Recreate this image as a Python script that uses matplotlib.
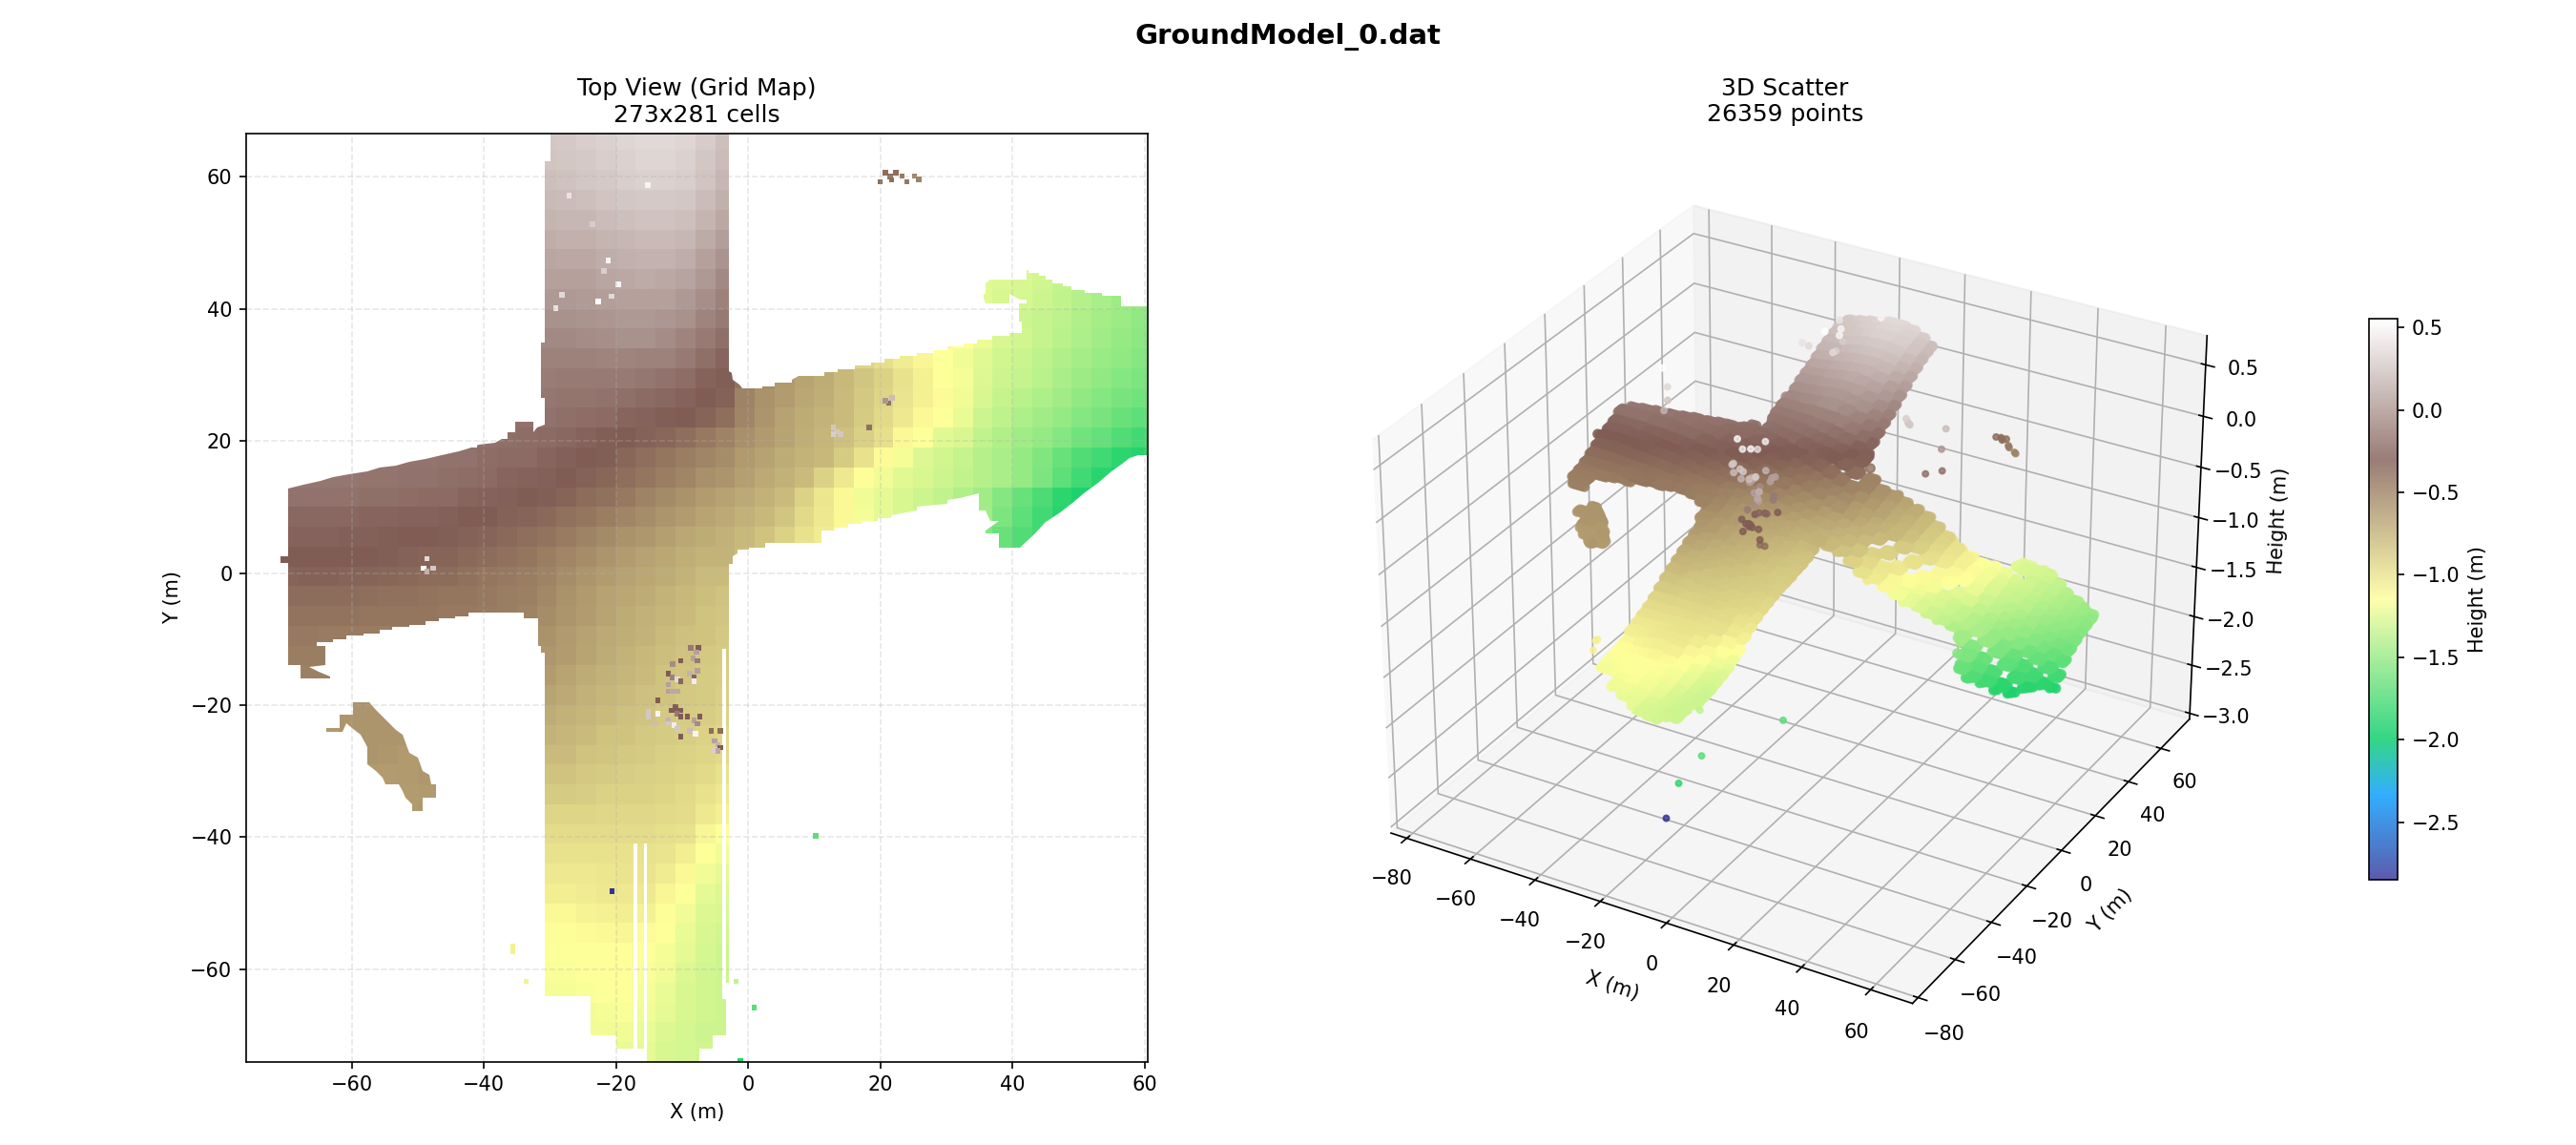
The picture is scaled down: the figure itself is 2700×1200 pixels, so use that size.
import numpy as np
import matplotlib
matplotlib.use("Agg")
import matplotlib.pyplot as plt
from matplotlib.colors import Normalize
from matplotlib.path import Path

# cell edges of the height table (m)
x_edges = np.arange(-71, 62, 3)
y_edges = np.arange(-74, 68, 3)

# height runs: row centre y, first column centre x, heights in cm
row_y = [65.5, 62.5, 59.5, 56.5, 53.5, 50.5, 47.5, 44.5, 44.5, 41.5, 41.5, 38.5, 38.5, 35.5, 35.5,
         32.5, 32.5, 29.5, 29.5, 26.5, 26.5, 23.5, 23.5, 20.5, 20.5, 17.5, 17.5, 14.5, 14.5,
         11.5, 11.5, 8.5, 8.5, 5.5, 5.5, 2.5, 2.5, 2.5, -0.5, -3.5, -6.5, -9.5, -9.5,
         -12.5, -12.5, -15.5, -15.5, -18.5, -18.5, -21.5, -21.5, -24.5, -24.5, -27.5, -27.5,
         -30.5, -30.5, -33.5, -33.5, -36.5, -36.5, -39.5, -42.5, -45.5, -48.5, -51.5, -54.5,
         -57.5, -60.5, -63.5, -66.5, -69.5, -72.5]
row_x0 = [-30.5, -30.5, -30.5, -30.5, -30.5, -30.5, -30.5, -30.5, 35.5, -30.5, 35.5, -30.5, 38.5, -30.5, 29.5,
          -30.5, 17.5, -30.5, -0.5, -30.5, -0.5, -36.5, -0.5, -39.5, -0.5, -54.5, -0.5, -69.5, -0.5,
          -69.5, -0.5, -69.5, -0.5, -69.5, -0.5, -69.5, -0.5, 38.5, -69.5, -69.5, -69.5, -69.5, -30.5,
          -69.5, -30.5, -69.5, -30.5, -60.5, -30.5, -60.5, -30.5, -63.5, -30.5, -57.5, -30.5,
          -57.5, -30.5, -54.5, -30.5, -51.5, -30.5, -30.5, -30.5, -30.5, -30.5, -30.5, -30.5,
          -30.5, -30.5, -30.5, -24.5, -24.5, -18.5]
row_cm = [
    [26, 27, 29, 31, 33, 35, 35, 33, 28, 22],
    [24, 25, 27, 29, 31, 33, 33, 31, 26, 20],
    [22, 23, 25, 27, 29, 31, 31, 29, 24, 17],
    [19, 20, 21, 24, 26, 27, 27, 25, 20, 13],
    [16, 17, 18, 20, 22, 23, 23, 21, 16, 9],
    [12, 13, 14, 16, 18, 19, 19, 17, 11, 4],
    [8, 9, 10, 12, 14, 15, 15, 12, 6, -1],
    [5, 5, 6, 8, 10, 11, 10, 7, 1, -6],
    [-125, -126, -128, -130, -134, -137],
    [2, 2, 3, 4, 6, 6, 5, 2, -4, -11],
    [-125, -127, -129, -132, -136, -139, -143, -147, -149],
    [-2, -2, -1, 0, 2, 2, 0, -3, -9, -15],
    [-128, -131, -134, -137, -141, -145, -148, -151],
    [-6, -6, -5, -4, -3, -3, -5, -9, -14, -20],
    [-112, -116, -121, -127, -130, -134, -138, -142, -146, -150, -153],
    [-10, -10, -10, -9, -9, -10, -11, -15, -20, -25],
    [-93, -98, -105, -110, -115, -120, -125, -130, -133, -137, -141, -145, -149, -152, -155],
    [-13, -14, -14, -14, -15, -16, -18, -21, -26, -32],
    [-42, -55, -62, -67, -72, -78, -85, -92, -100, -108, -115, -118, -126, -131, -134, -138, -143, -147, -151, -155, -158],
    [-16, -17, -17, -18, -20, -22, -24, -27, -30, -33],
    [-50, -58, -64, -69, -73, -79, -86, -93, -101, -108, -113, -119, -128, -134, -138, -142, -146, -151, -155, -159, -162],
    [-18, -19, -19, -20, -21, -23, -25, -27, -29, -31, -34, -40],
    [-52, -60, -66, -71, -75, -80, -87, -95, -103, -112, -115, -122, -131, -137, -142, -146, -150, -155, -160, -164, -168],
    [-19, -20, -21, -22, -24, -26, -29, -31, -33, -36, -40, -45, -50],
    [-57, -62, -68, -73, -77, -82, -90, -98, -112, -116, -125, -128, -135, -141, -146, -150, -156, -162, -166, -172, -178],
    [-17, -17, -17, -18, -18, -21, -22, -23, -25, -28, -30, -32, -36, -40, -44, -48, -52, -56],
    [-62, -66, -72, -75, -78, -88, -100, -113, -118, -126, -130, -134, -139, -144, -150, -157, -164, -172, -178, -184, -187],
    [-16, -16, -16, -16, -17, -17, -18, -19, -20, -21, -23, -25, -26, -28, -31, -33, -36, -40, -44, -48, -52, -57, -60],
    [-65, -70, -74, -80, -92, -104, -114, -120, -125, -128, -132, -136, -140, -143, -150, -158, -168, -178, -186, -190, -190],
    [-19, -19, -19, -19, -20, -20, -21, -22, -23, -25, -27, -28, -30, -32, -35, -38, -41, -45, -50, -54, -58, -63, -66],
    [-70, -74, -80, -92, -102, -112, -120, -124, -128, -132, -136, -141, -146, -155, -164, -174, -184, -190],
    [-24, -24, -24, -24, -25, -25, -26, -27, -28, -30, -31, -33, -35, -37, -41, -44, -48, -52, -56, -60, -64, -68, -70],
    [-74, -78, -85, -95, -104, -112, -118, -123, -127, -131, -135, -140, -146, -158, -168, -178, -186],
    [-27, -27, -27, -28, -28, -29, -30, -31, -32, -33, -35, -37, -40, -42, -46, -50, -54, -58, -61, -65, -69, -72, -74],
    [-78, -84, -92, -100, -105, -112, -118, -122, -126, -130, -135, -142, -155, -165, -172, -178],
    [-30, -30, -30, -31, -31, -32, -33, -34, -35, -37, -39, -41, -44, -47, -51, -55, -59, -63, -66, -69, -73, -76, -76],
    [-80, -84, -92, -100],
    [-167, -172],
    [-34, -33, -33, -34, -35, -36, -37, -38, -39, -41, -43, -45, -48, -50, -55, -59, -63, -66, -69, -72, -76, -79, -80],
    [-38, -38, -38, -39, -40, -41, -41, -42, -43, -44, -45, -47, -49, -53, -58, -62, -66, -69, -72, -75, -78, -81, -83],
    [-42, -42, -42, -42, -43, -43, -44, -44, -45, -45, -46, -48, -50, -56, -60, -64, -68, -71, -74, -77, -80, -83, -85],
    [-45, -45, -46, -46, -46, -47, -47, -47, -47, -48, -49, -50, -52],
    [-58, -62, -66, -70, -73, -76, -79, -82, -84, -86],
    [-47, -47, -47],
    [-61, -64, -68, -72, -75, -78, -81, -84, -86, -88],
    [-49, -49, -49],
    [-64, -67, -71, -74, -77, -80, -83, -85, -87, -89],
    [-58, -58],
    [-67, -70, -74, -77, -79, -82, -84, -86, -88, -90],
    [-60, -59, -59, -60],
    [-71, -74, -77, -80, -82, -84, -86, -87, -89, -92],
    [-62, -60, -60, -60, -60, -60],
    [-75, -77, -80, -83, -84, -86, -88, -89, -91, -94],
    [-60, -61, -62, -61],
    [-79, -80, -83, -85, -86, -88, -90, -91, -93, -96],
    [-62, -63, -62, -61],
    [-83, -84, -86, -88, -89, -90, -92, -93, -96, -99],
    [-63, -63, -62, -58],
    [-88, -88, -89, -91, -91, -92, -93, -95, -99, -103],
    [-62, -61],
    [-93, -93, -93, -94, -94, -94, -95, -97, -103, -108],
    [-97, -97, -97, -97, -97, -97, -98, -100, -110, -116],
    [-100, -100, -100, -100, -99, -99, -101, -106, -115, -120],
    [-103, -103, -103, -102, -101, -101, -105, -112, -120, -124],
    [-106, -106, -105, -104, -103, -103, -110, -116, -124, -126],
    [-112, -112, -109, -107, -106, -108, -114, -120, -126, -128],
    [-114, -114, -113, -112, -110, -113, -116, -122, -128, -130],
    [-115, -115, -115, -115, -115, -116, -118, -124, -129, -131],
    [-117, -117, -116, -115, -115, -117, -120, -126, -130, -132],
    [-118, -118, -117, -116, -116, -118, -122, -127, -130, -132],
    [-119, -118, -117, -120, -124, -128, -130, -131],
    [-120, -119, -119, -122, -126, -129, -131, -132],
    [-122, -124, -127, -129, -130, -131],
]

# outline of the surveyed road area
road_outline = [
    (-29.9, 66.5), (-29.9, 62.4), (-30.8, 62.4), (-30.8, 34.9), (-31.4, 34.9), (-31.4, 26.5), (-30.8, 26.5),
    (-30.8, 22.4), (-31.9, 22), (-32.5, 21.3), (-32.5, 22.9), (-35.3, 22.9), (-35.3, 21.3), (-36.4, 21.3),
    (-36.4, 20.3), (-37.3, 20.3), (-38.3, 19.7), (-40.8, 19.4), (-42.4, 18.9), (-43.8, 18.4), (-46.4, 17.8),
    (-48.8, 17.3), (-51.3, 16.8), (-53.3, 16.3), (-55.8, 15.9), (-57.7, 15.4), (-60.4, 14.9), (-62.8, 14.5),
    (-64.8, 13.9), (-67.3, 13.4), (-69.7, 12.8), (-69.7, 2.5), (-70.8, 2.5), (-70.8, 1.5), (-69.7, 1.5),
    (-69.7, -14), (-67.8, -14), (-67.8, -16), (-63.3, -16), (-63.3, -15.6), (-65, -15), (-66.5, -14.2),
    (-64, -14), (-64, -11), (-65.3, -11), (-65.3, -10.5), (-62.8, -10.5), (-62.8, -10), (-60.8, -10),
    (-60.8, -9.5), (-58.3, -9.5), (-58.3, -9.1), (-55.8, -9.1), (-55.8, -8.6), (-53.9, -8.6), (-53.9, -8.2),
    (-51.3, -8.2), (-51.3, -7.8), (-48.9, -7.8), (-48.9, -7.3), (-46.8, -7.3), (-46.8, -6.9), (-44.4, -6.9),
    (-44.4, -6.5), (-42.4, -6.5), (-42.4, -6), (-33.9, -6), (-33.9, -6.9), (-31.8, -6.9), (-31.8, -11),
    (-31.4, -11), (-31.4, -12), (-30.8, -12), (-30.8, -64), (-23.9, -64), (-23.9, -70), (-19.9, -70),
    (-19.9, -72), (-17.4, -72), (-17.4, -41), (-16.8, -41), (-16.8, -72), (-15.8, -72), (-15.8, -41),
    (-15.4, -41), (-15.4, -74), (-7.4, -74), (-7.4, -72), (-5.4, -72), (-5.4, -70), (-3.4, -70), (-3.4, -64.5),
    (-3.9, -64.5), (-3.9, -11.5), (-3.4, -11.5), (-3.4, -62), (-2.9, -62), (-2.9, 1.4), (-2.4, 1.4), (-2.4, 2.5),
    (-1.6, 2.9), (-1.6, 3.5), (0.1, 3.5), (0.1, 3.9), (2.6, 3.9), (2.6, 4.5), (7.1, 4.5), (11.1, 4.5),
    (11.1, 6.4), (13.1, 6.4), (13.1, 6.9), (15.1, 6.9), (15.1, 7.4), (17.1, 7.4), (17.1, 7.9), (19.6, 7.9),
    (19.6, 8.3), (21.6, 8.3), (21.6, 8.8), (25.5, 9.4), (25.5, 10), (30.1, 10.5), (30.1, 11), (32.1, 11.3),
    (35, 12), (35, 9.4), (36, 9.4), (36.6, 7.9), (38, 7.9), (36, 6.4), (36, 6), (38, 6), (38, 3.9), (41.1, 3.9),
    (43.4, 6), (45.1, 7.7), (47, 9.1), (48.9, 10.5), (50.8, 12), (53, 13.7), (55, 15.4), (56.5, 16.4),
    (57.8, 17.4), (59, 17.9), (60.4, 17.9), (60.4, 40.4), (56.5, 40.4), (56.5, 41.9), (53.5, 41.9), (53.5, 42.4),
    (51, 42.4), (51, 42.9), (49, 42.9), (49, 43.4), (47.6, 43.4), (47.6, 43.9), (46, 43.9), (46, 44.4),
    (45.1, 44.4), (45.1, 45), (44.1, 45), (44.1, 45.5), (42.5, 45.5), (42.5, 45.9), (42.1, 45.9), (42.1, 44.4),
    (36.6, 44.4), (36, 43.9), (36, 42.3), (35.6, 42.3), (35.6, 41.6), (35.9, 40.8), (39.5, 40.8), (39.5, 42.3),
    (41.1, 41.4), (42.1, 41.4), (42.1, 40.8), (41, 40.8), (41, 38), (41.5, 38), (41.5, 36.4), (39.5, 36.4),
    (39.5, 35.9), (37, 35.9), (37, 35.3), (34.6, 35.3), (34.6, 34.8), (32.6, 34.8), (32.6, 34.3), (30.1, 34.3),
    (30.1, 33.8), (28.1, 33.8), (28.1, 33.3), (25.5, 33.3), (25.5, 32.8), (23, 32.8), (23, 32.4), (20.6, 32.4),
    (20.6, 31.9), (18.6, 31.9), (18.6, 31.4), (16.1, 31.4), (16.1, 30.9), (13.5, 30.9), (13.5, 30.4), (11.5, 30.4),
    (11.5, 29.8), (7.6, 29.8), (6.6, 29.3), (6.6, 28.8), (4, 28.8), (4, 28.3), (2.2, 28.3), (2.2, 27.9), (-0.9, 27.9),
    (-1.3, 28.6), (-2.3, 29.3), (-2.5, 30.2), (-2.9, 30.6), (-2.9, 66.5),
]
island_outline = [
    (-59.8, -19.6), (-57.3, -19.6), (-56.3, -20.7), (-54.9, -22.1), (-53.3, -23.7), (-52.3, -24.5), (-51.3, -27.2),
    (-50, -28), (-49.3, -30), (-48.3, -30.5), (-48, -32), (-47.3, -32), (-47.3, -34), (-49.3, -34), (-49.3, -36),
    (-50.9, -36), (-50.9, -35), (-51.9, -34), (-52.3, -33), (-52.9, -32), (-54.9, -32), (-55.3, -31), (-56.3, -30),
    (-57.7, -29), (-57.7, -26.4), (-58.7, -24.5), (-60, -23.5), (-60.8, -22.8), (-61.4, -24), (-63.9, -24),
    (-63.9, -23.5), (-61.9, -23.5), (-61.9, -21.5), (-59.8, -21.5),
]

# isolated returns: x (m), y (m), height (cm)
spot_x = [-7.5, -8.7, -7.8, -8.3, -7.7, -10.2, -11.4, -7.7, -12.1, -11.5, -10.7, -10.2, -8.8, -8.2, -8.2, -12.1, -12.1,
          -11.5, -10.7, -13.7, -11.6, -10.8, -10.2, -11, -10.8, -15.1, -15.1, -13.7, -9.2, -7.3, -10.2, -8.2, -7.7, -14,
          -12.1, -12.1, -11.2, -10.7, -8.8, -8, -10.2, -5.6, -4.2, -5.1, -4.6, -4.2, -5.1, -4.6,
          -21.2, -21.8, -19.7, -22.7, -20.7, -28.2, -29.1, -15.2, -27.1, -23.6,
          -48.6, -49.1, -47.7, -48.6, 12.9, 13.5, 14, 12.9, 18.3, 21.3, 20.8, 21.8,
          20.8, 21.5, 22.4, 21.7, 23.3, 24, 20, 25.2, 25.8,
          10.2, 0.9, -1.2, -1.8, -20.6, -35.6, -35.6, -33.6]
spot_y = [-11.3, -11.3, -12, -12.9, -13.3, -13.3, -13.8, -14.8, -15.2, -15.8, -16.1, -16.4, -15.2, -15.8, -16.4, -16.9, -17.9,
          -17.9, -17.9, -19.3, -20.8, -20.8, -20.8, -20.3, -21.3, -21, -21.7, -21.3, -21.7, -21.7, -21.7, -22.3, -22.8, -22.8,
          -22.3, -22.8, -23, -23.6, -23.9, -24.3, -24.8, -23.9, -23.9, -25.4, -26, -26.4, -26.9, -26.9,
          47.3, 45.7, 43.7, 41.1, 41.9, 42.1, 40.1, 58.7, 57.1, 52.8,
          2.2, 0.7, 0.7, 0.2, 22, 21.4, 21, 21, 22, 25.7, 26.1, 26.5,
          60.6, 60, 60.6, 59.5, 60.1, 59.2, 59.2, 60.1, 59.6,
          -39.8, -65.8, -73.9, -61.8, -48.2, -57.3, -56.5, -61.8]
spot_cm = [-30, -15, 5, 5, -15, -30, -5, 5, -30, -10, 35, -25, 15, -25, 45, 5, 5,
           10, 10, -30, -30, -30, -30, -30, -15, 25, 25, 50, -30, -30, -30, 5, -5, 20,
           15, 25, 45, 25, 20, 50, -30, -40, -40, 5, 15, -30, 30, 10,
           50, 30, 50, 55, 35, 35, 40, 50, 40, 28,
           35, 55, 25, 15, 25, 25, 25, 30, -20, -20, 0, 20,
           -40, -40, -40, -40, -45, -45, -38, -50, -50,
           -170, -170, -185, -135, -285, -108, -108, -108]

height_min, height_max = -2.85, 0.554
xt_top = [-60, -40, -20, 0, 20, 40, 60]
yt_top = [-60, -40, -20, 0, 20, 40, 60]

# fill the table
grid = np.full((len(y_edges) - 1, len(x_edges) - 1), np.nan)
for y, x0, vals in zip(row_y, row_x0, row_cm):
    r = int((y - y_edges[0]) // 3)
    c = int((x0 - x_edges[0]) // 3)
    grid[r, c:c + len(vals)] = np.array(vals) / 100.0

road_path = Path(road_outline + [road_outline[0]], closed=True)
island_path = Path(island_outline + [island_outline[0]], closed=True)
clip = Path.make_compound_path(road_path, island_path)

norm = Normalize(vmin=height_min, vmax=height_max)

fig = plt.figure(figsize=(18, 8), dpi=150)
fig.suptitle("GroundModel_0.dat", fontsize=14, fontweight="bold", y=0.98)

# left panel, top view
ax = fig.add_axes([258 / 2700, 1 - 1113 / 1200, 945 / 2700, 973 / 1200])
mesh = ax.pcolormesh(x_edges, y_edges, np.ma.masked_invalid(grid), cmap="terrain", norm=norm)
mesh.set_clip_path(clip, ax.transData)
ax.scatter(spot_x, spot_y, c=np.array(spot_cm) / 100.0, cmap="terrain", norm=norm, marker="s", s=7, linewidths=0)
ax.set_xlim(-76, 60.5)
ax.set_ylim(-74, 66.5)
ax.set_aspect("equal")
ax.set_xticks(xt_top)
ax.set_yticks(yt_top)
ax.set_xlabel("X (m)")
ax.set_ylabel("Y (m)")
ax.set_title("Top View (Grid Map)\n273x281 cells", fontsize=12)
ax.grid(True, linestyle="--", alpha=0.3)

# right panel, scatter of the same cells
centre_x, centre_y = np.meshgrid((x_edges[:-1] + x_edges[1:]) / 2, (y_edges[:-1] + y_edges[1:]) / 2)
offsets = np.array([-1.125, -0.375, 0.375, 1.125])
px, py, pz = [], [], []
for dx in offsets:
    for dy in offsets:
        keep = ~np.isnan(grid)
        px.append(centre_x[keep] + dx)
        py.append(centre_y[keep] + dy)
        pz.append(grid[keep])
px, py, pz = np.concatenate(px), np.concatenate(py), np.concatenate(pz)
pts = np.column_stack([px, py])
inside = road_path.contains_points(pts) | island_path.contains_points(pts)
n_road = int(inside.sum())
px = np.concatenate([px[inside], spot_x])
py = np.concatenate([py[inside], spot_y])
pz = np.concatenate([pz[inside], np.array(spot_cm) / 100.0])
sizes = np.concatenate([np.full(n_road, 18.0), np.full(len(spot_x), 8.0)])

ax3d = fig.add_axes([(1871 - 560) / 2700, 1 - 1113 / 1200, 1120 / 2700, 973 / 1200], projection="3d")
sc = ax3d.scatter(px, py, pz, c=pz, cmap="terrain", norm=norm, s=sizes, alpha=0.8)
ax3d.set_xlim(-85, 72)
ax3d.set_ylim(-83, 78)
ax3d.set_zlim(-3.06, 0.78)
ax3d.set_xticks(np.arange(-80, 61, 20))
ax3d.set_yticks(np.arange(-80, 61, 20))
ax3d.set_xlabel("X (m)")
ax3d.set_ylabel("Y (m)")
ax3d.set_zlabel("Height (m)")
ax3d.set_title("3D Scatter\n26359 points", fontsize=12)

cax = fig.add_axes([2483 / 2700, 1 - 922 / 1200, 30 / 2700, 588 / 1200])
fig.colorbar(sc, cax=cax, label="Height (m)")

fig.savefig("out.png", dpi=150)
